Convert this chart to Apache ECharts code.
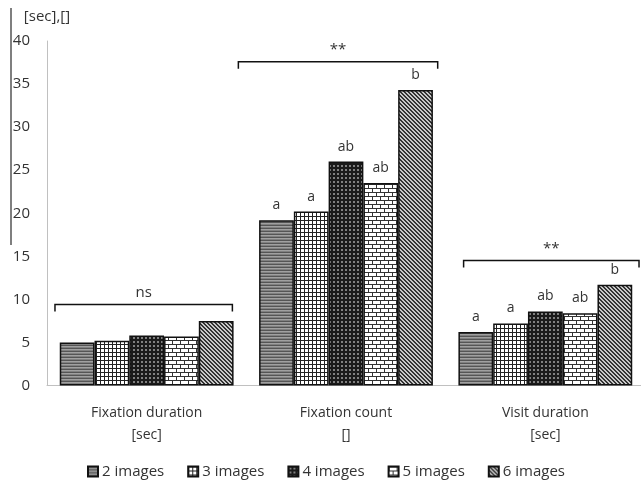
<!DOCTYPE html>
<html>
<head>
<meta charset="utf-8">
<script src="https://cdn.jsdelivr.net/npm/echarts@6/dist/echarts.min.js"></script>
<style>
  html, body { margin: 0; padding: 0; background: #fff; }
  #chart { width: 641px; height: 481px; }
</style>
</head>
<body>
<div id="chart"></div>
<script>
// measures on the x axis
const categories = ['Fixation duration\n[sec]', 'Fixation count\n[]', 'Visit duration\n[sec]'];
const seriesNames = ['2 images', '3 images', '4 images', '5 images', '6 images'];

// bar values
const img2 = [5.0, 19.2, 6.2];
const img3 = [5.2, 20.2, 7.2];
const img4 = [5.8, 26.0, 8.6];
const img5 = [5.7, 23.5, 8.4];
const img6 = [7.5, 34.3, 11.7];

// letters over each bar (post-hoc groups)
const letters2 = ['', 'a', 'a'];
const letters3 = ['', 'a', 'a'];
const letters4 = ['', 'ab', 'ab'];
const letters5 = ['', 'ab', 'ab'];
const letters6 = ['', 'b', 'b'];

// significance brackets
const bracketLevel = [9.4, 37.6, 14.5];
const bracketText = ['ns', '**', '**'];

const yTicks = [0, 40, 5]; // min, max, step

// bracket ends, in fractions of a category band (left, right)
const bracketSpan = [[-0.46, 0.43], [-0.54, 0.46], [-0.41, 0.47]];

// hatch patterns like the excel fills
function pattern(w, h, draw) {
  const c = document.createElement('canvas');
  c.width = w; c.height = h;
  const ctx = c.getContext('2d');
  draw(ctx);
  return { image: c, repeat: 'repeat' };
}
const fills = [
  // horizontal stripes
  pattern(1, 3, ctx => {
    ctx.fillStyle = '#555'; ctx.fillRect(0, 0, 1, 1);
    ctx.fillStyle = '#a0a0a0'; ctx.fillRect(0, 1, 1, 1);
    ctx.fillStyle = '#808080'; ctx.fillRect(0, 2, 1, 1);
  }),
  // small grid
  pattern(4, 4, ctx => {
    ctx.fillStyle = '#fff'; ctx.fillRect(0, 0, 4, 4);
    ctx.fillStyle = '#222'; ctx.fillRect(0, 0, 4, 1); ctx.fillRect(0, 0, 1, 4);
  }),
  // dark checker
  pattern(4, 4, ctx => {
    ctx.fillStyle = '#1a1a1a'; ctx.fillRect(0, 0, 4, 4);
    ctx.fillStyle = '#808080'; ctx.fillRect(1, 1, 2, 2);
  }),
  // bricks
  pattern(8, 8, ctx => {
    ctx.fillStyle = '#fff'; ctx.fillRect(0, 0, 8, 8);
    ctx.fillStyle = '#333';
    ctx.fillRect(0, 0, 8, 1); ctx.fillRect(0, 4, 8, 1);
    ctx.fillRect(0, 0, 1, 4); ctx.fillRect(4, 4, 1, 4);
  }),
  // diagonal stripes
  pattern(4, 4, ctx => {
    ctx.fillStyle = '#c8c8c8'; ctx.fillRect(0, 0, 4, 4);
    ctx.fillStyle = '#333';
    for (let i = 0; i < 4; i++) { ctx.fillRect(i, i, 1, 1); ctx.fillRect((i + 1) % 4, i, 1, 1); }
  })
];

const values = [img2, img3, img4, img5, img6];
const letters = [letters2, letters3, letters4, letters5, letters6];
const font = '"Open Sans", sans-serif';
const textColor = '#333';

const chart = echarts.init(document.getElementById('chart'));

const barSeries = seriesNames.map((name, i) => ({
  name: name,
  type: 'bar',
  barGap: 0,
  barCategoryGap: '12.8%',
  data: values[i],
  itemStyle: { color: fills[i], borderColor: '#111', borderWidth: 1.5 },
  label: {
    show: true,
    position: 'top',
    distance: 8,
    fontFamily: font,
    fontSize: 14,
    color: textColor,
    formatter: p => letters[i][p.dataIndex]
  }
}));

// brackets drawn in data space
barSeries.push({
  type: 'custom',
  name: 'brackets',
  silent: true,
  data: bracketLevel.map((v, i) => [i, v]),
  renderItem: (params, api) => {
    const i = params.dataIndex;
    const p = api.coord([api.value(0), api.value(1)]);
    const band = api.size([1, 0])[0];
    const x1 = p[0] + bracketSpan[i][0] * band;
    const x2 = p[0] + bracketSpan[i][1] * band;
    const y = p[1];
    return {
      type: 'group',
      children: [
        {
          type: 'polyline',
          shape: { points: [[x1, y + 7], [x1, y], [x2, y], [x2, y + 7]] },
          style: { stroke: '#111', lineWidth: 1.5, fill: null }
        },
        {
          type: 'text',
          style: {
            x: (x1 + x2) / 2, y: y - 12,
            text: bracketText[i],
            align: 'center', verticalAlign: 'middle',
            font: '15px ' + font, fill: textColor
          }
        }
      ]
    };
  }
});

chart.setOption({
  animation: false,
  grid: { left: 47, right: -4, top: 41, bottom: 95.5, outerBoundsMode: 'none' },
  legend: {
    data: seriesNames,
    left: 82, top: 459,
    itemWidth: 10, itemHeight: 10, itemGap: 23,
    icon: 'rect',
    textStyle: { fontFamily: font, fontSize: 15, color: textColor, padding: [0, 0, 0, -1] }
  },
  xAxis: {
    type: 'category',
    data: categories,
    axisLine: { lineStyle: { color: '#c0c0c0', width: 1 } },
    axisTick: { show: false },
    axisLabel: { fontFamily: font, fontSize: 14, color: textColor, lineHeight: 22, margin: 17 }
  },
  yAxis: {
    type: 'value',
    min: yTicks[0], max: yTicks[1], interval: yTicks[2],
    name: '[sec],[]',
    nameLocation: 'end',
    nameGap: 24,
    nameTextStyle: { fontFamily: font, fontSize: 15, color: textColor, verticalAlign: 'middle' },
    axisLine: { show: true, lineStyle: { color: '#c0c0c0', width: 1 } },
    axisTick: { show: false },
    splitLine: { show: false },
    axisLabel: { fontFamily: font, fontSize: 15, color: textColor, margin: 17 }
  },
  graphic: [{
    type: 'line',
    shape: { x1: 11, y1: 8, x2: 11, y2: 245 },
    style: { stroke: '#555', lineWidth: 1.5 }
  }],
  series: barSeries
});
</script>
</body>
</html>
